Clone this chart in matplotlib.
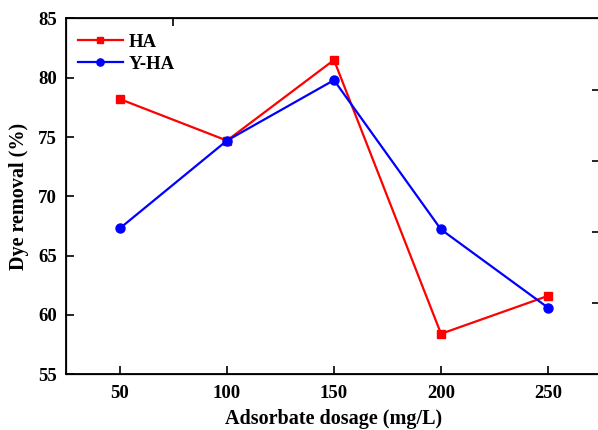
import matplotlib.pyplot as plt

dosage = [50, 100, 150, 200, 250]
ha = [78.2, 74.7, 81.5, 58.4, 61.6]
yha = [67.3, 74.7, 79.8, 67.2, 60.6]
y_ticks = [55, 60, 65, 70, 75, 80, 85]
right_ticks = [61, 67, 73, 79]
top_ticks = [75]

plt.rcParams['font.family'] = ['Liberation Serif']
plt.rcParams['font.weight'] = 'bold'

fig = plt.figure(figsize=(5.98, 4.30), dpi=100)
ax = fig.add_axes([0.111, 0.130, 0.895, 0.827])

ax.plot(dosage, ha, color='red', marker='s', markersize=6, linewidth=1.6, label='HA')
ax.plot(dosage, yha, color='blue', marker='o', markersize=6.5, linewidth=1.6, label='Y-HA')

ax.set_xlim(25, 275)
ax.set_ylim(55, 85)
ax.set_xticks(dosage)
ax.set_yticks(y_ticks)
ax.tick_params(direction='in', length=6, width=1.2, labelsize=13.5)
ax.tick_params(axis='x', pad=8)
ax.tick_params(axis='y', pad=7)
for lab in ax.get_xticklabels() + ax.get_yticklabels():
    lab.set_fontweight('bold')
for s in ax.spines.values():
    s.set_linewidth(1.3)

# extra ticks on the twin axes (no labels)
ax_r = ax.twinx()
ax_r.set_ylim(55, 85)
ax_r.set_yticks(right_ticks)
ax_r.tick_params(direction='in', length=7, width=1.2, labelright=False)
ax_t = ax.twiny()
ax_t.set_xlim(25, 275)
ax_t.set_xticks(top_ticks)
ax_t.tick_params(direction='in', length=6, width=1.2, labeltop=False)

ax.set_xlabel('Adsorbate dosage (mg/L)', fontsize=14.5, fontweight='bold', labelpad=5)
ax.set_ylabel('Dye removal (%)', fontsize=14.5, fontweight='bold', labelpad=6)

ax.legend(loc='upper left', bbox_to_anchor=(0.0215, 0.958), frameon=False,
          handlelength=2.4, handletextpad=0.3, borderpad=0, borderaxespad=0,
          labelspacing=0.28, markerscale=0.8, prop={'weight': 'bold', 'size': 13.5})

fig.savefig('out.png', dpi=100)
